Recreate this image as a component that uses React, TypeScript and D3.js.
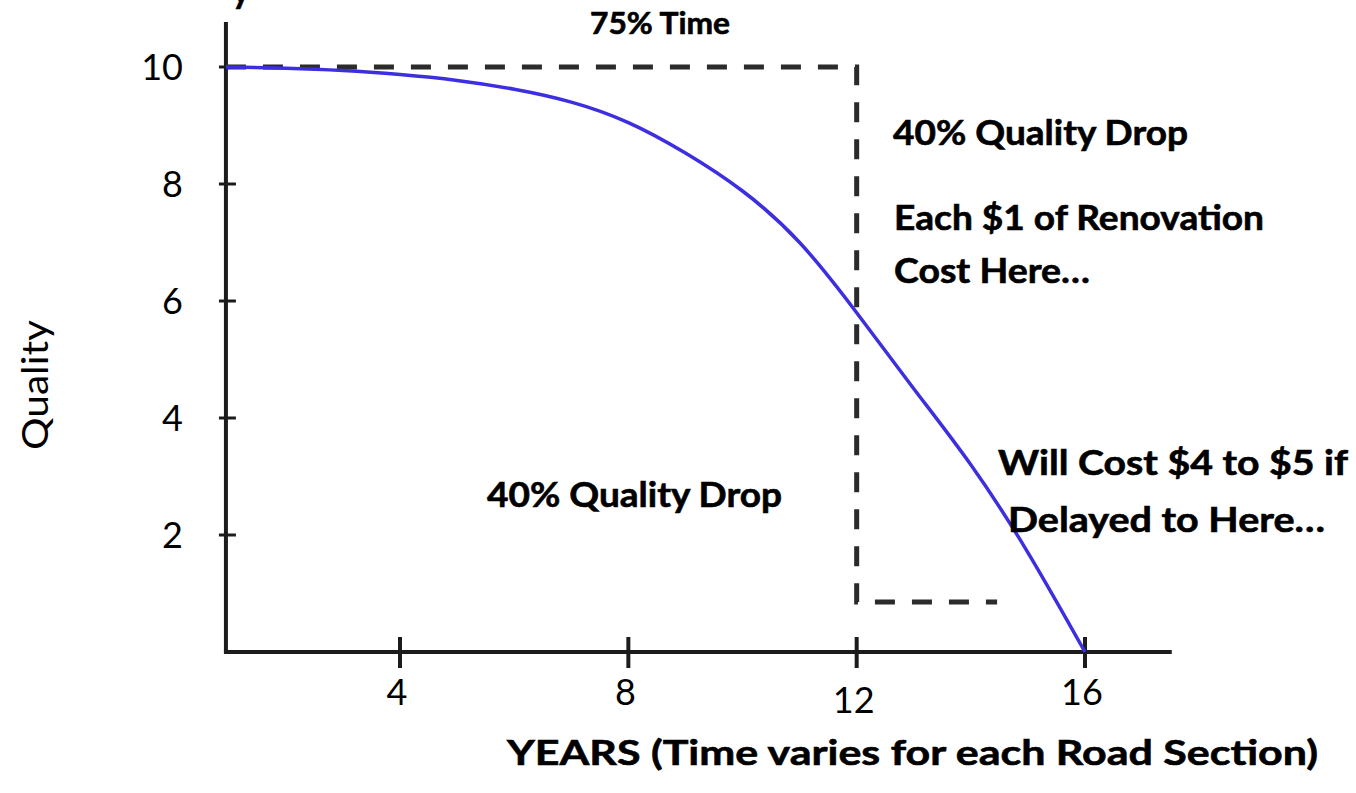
import React from 'react';
import * as d3 from 'd3';

// Curve: quality of road over years
const years = [0.95, 2, 3, 4, 5, 6, 7, 8, 9, 10, 11, 12, 13, 14, 15, 16];
const quality = [10, 9.98, 9.94, 9.87, 9.77, 9.62, 9.4, 9.05, 8.53, 7.88, 7.0, 5.8, 4.5, 3.2, 1.7, 0];

// Dashed guide (75% time / 40% drop box)
const guideYears = [0.95, 12, 12, 14.46];
const guideQuality = [10, 10, 0.855, 0.855];

const xTicks = [4, 8, 12, 16];
const yTicks = [2, 4, 6, 8, 10];

const W = 1356;
const H = 793;
const FONT = "Lato, 'Open Sans', sans-serif";

export default function App() {
  const x = d3.scaleLinear().domain([0, 16]).range([171.7, 1085]);
  const y = d3.scaleLinear().domain([0, 10]).range([652, 67]);

  const xOrigin = 0.95;
  const xEnd = 17.52;
  const yTop = 10.77;

  const curvePts: [number, number][] = years.map((v, i) => [v, quality[i]]);
  const line = d3
    .line<[number, number]>()
    .x((d) => x(d[0]))
    .y((d) => y(d[1]))
    .curve(d3.curveNatural);

  const guidePts: [number, number][] = guideYears.map((v, i) => [v, guideQuality[i]]);
  const guideLine = d3
    .line<[number, number]>()
    .x((d) => x(d[0]))
    .y((d) => y(d[1]));

  const axisColor = '#1c1c1c';
  const bold = { fontWeight: 700, fill: '#000', stroke: '#000', strokeWidth: 0.6 } as const;

  return (
    <svg
      width={W}
      height={H}
      style={{ position: 'absolute', left: 0, top: 0, display: 'block', background: '#fff' }}
      fontFamily={FONT}
    >
      <rect x={0} y={0} width={W} height={H} fill="#fff" />

      {/* cut-off title descender (as in the reference) */}
      <text x={232} y={3} fontSize={34} {...bold}>y</text>

      {/* axes */}
      <line x1={x(xOrigin)} x2={x(xOrigin)} y1={y(0)} y2={y(yTop)} stroke={axisColor} strokeWidth={4} />
      <line x1={x(xOrigin) - 2} x2={x(xEnd)} y1={y(0)} y2={y(0)} stroke={axisColor} strokeWidth={4} />

      {/* y ticks */}
      {yTicks.map((t) => (
        <g key={'y' + t}>
          <line x1={x(xOrigin) - 7} x2={x(xOrigin) + 10} y1={y(t)} y2={y(t)} stroke={axisColor} strokeWidth={3} />
          <text x={183} y={y(t)} dy="0.36em" textAnchor="end" fontSize={36} fill="#000">
            {t}
          </text>
        </g>
      ))}

      {/* x ticks */}
      {xTicks.map((t) => (
        <g key={'x' + t}>
          <line x1={x(t)} x2={x(t)} y1={y(0) - 15} y2={y(0) + 16} stroke={axisColor} strokeWidth={4} />
          <text x={x(t) - 3} y={705 + (t === 12 ? 8 : 0)} textAnchor="middle" fontSize={36} fill="#000">
            {t}
          </text>
        </g>
      ))}

      {/* dashed guide */}
      <path
        d={guideLine(guidePts) || ''}
        fill="none"
        stroke="#2b2b2b"
        strokeWidth={5}
        strokeDasharray="20 17"
      />

      {/* curve */}
      <path d={line(curvePts) || ''} fill="none" stroke="#3d2fe0" strokeWidth={3.5} />

      {/* annotations */}
      <text x={590} y={34} fontSize={30} {...bold} textLength={140} lengthAdjust="spacingAndGlyphs">
        75% Time
      </text>
      <text x={893} y={145} fontSize={34} {...bold} textLength={295} lengthAdjust="spacingAndGlyphs">
        40% Quality Drop
      </text>
      <text x={894} y={230} fontSize={34} {...bold} textLength={370} lengthAdjust="spacingAndGlyphs">
        Each $1 of Renovation
      </text>
      <text x={894} y={283} fontSize={34} {...bold} textLength={196} lengthAdjust="spacingAndGlyphs">
        Cost Here…
      </text>
      <text x={487} y={507} fontSize={34} {...bold} textLength={295} lengthAdjust="spacingAndGlyphs">
        40% Quality Drop
      </text>
      <text x={998} y={475} fontSize={34} {...bold} textLength={350} lengthAdjust="spacingAndGlyphs">
        Will Cost $4 to $5 if
      </text>
      <text x={1008} y={532} fontSize={34} {...bold} textLength={317} lengthAdjust="spacingAndGlyphs">
        Delayed to Here…
      </text>

      {/* axis titles */}
      <text
        transform="translate(48,385) rotate(-90)"
        textAnchor="middle"
        fontSize={36}
        fill="#000"
        textLength={130}
        lengthAdjust="spacingAndGlyphs"
      >
        Quality
      </text>
      <text x={507} y={765} fontSize={35} {...bold} textLength={811} lengthAdjust="spacingAndGlyphs">
        YEARS (Time varies for each Road Section)
      </text>
    </svg>
  );
}
